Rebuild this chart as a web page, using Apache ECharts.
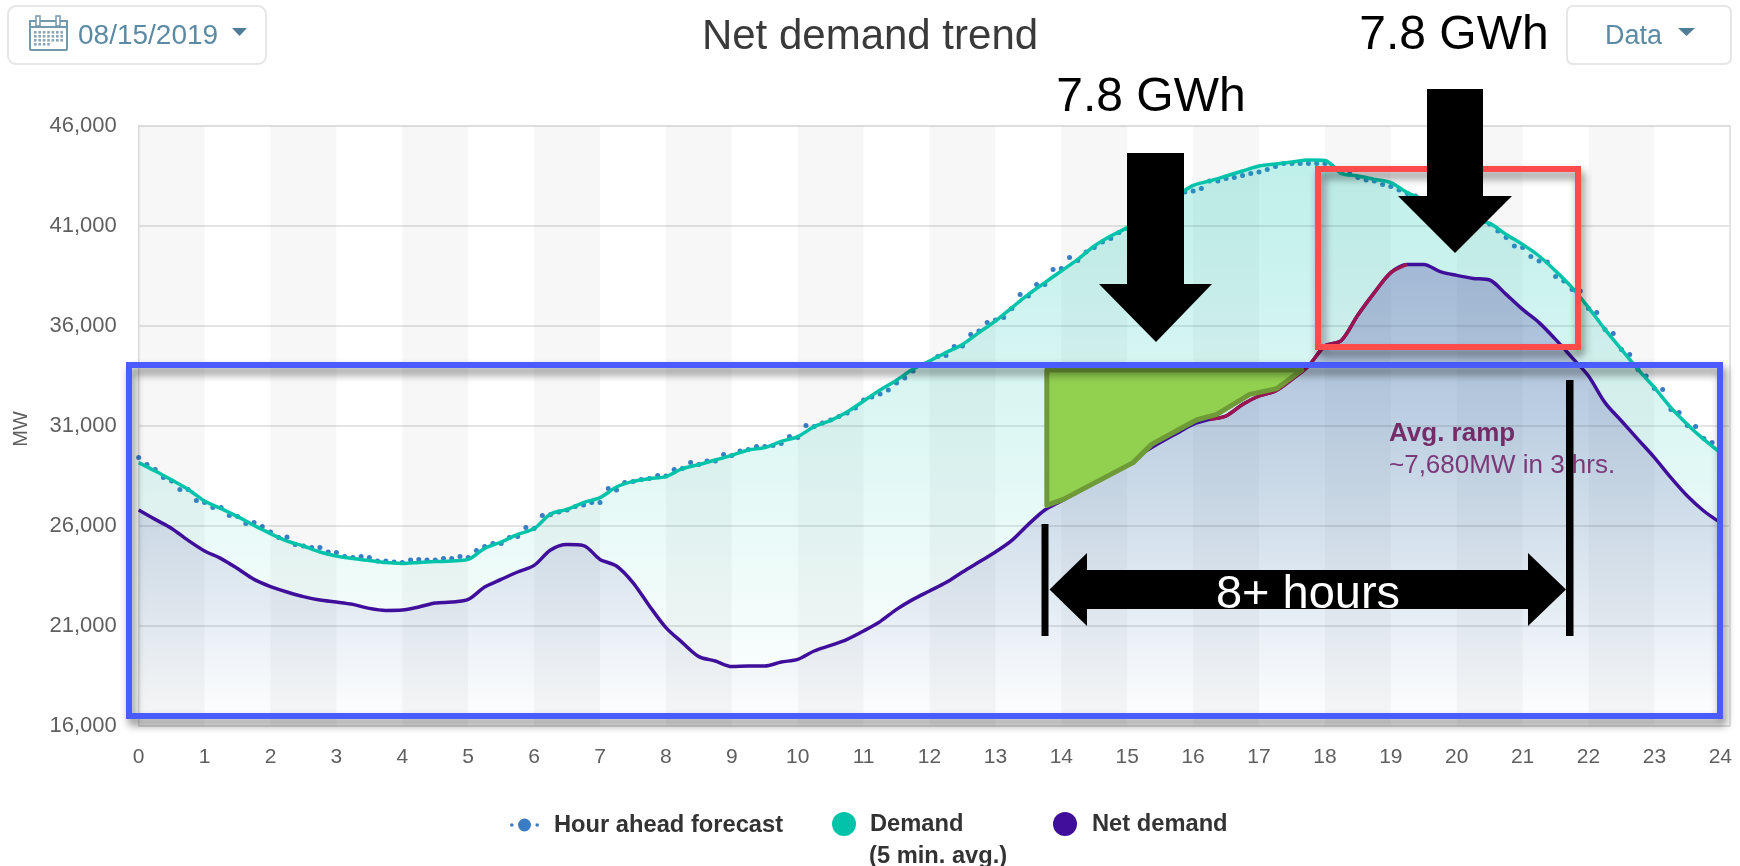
<!DOCTYPE html>
<html><head><meta charset="utf-8">
<style>html,body{margin:0;padding:0;background:#fff}#c{width:1740px;height:866px}</style>
<script src="https://cdn.jsdelivr.net/npm/echarts@6/dist/echarts.min.js"></script>
</head><body><div id="c"></div>
<script>
// ---------- data (MW) ----------
const yTicks = [16000, 21000, 26000, 31000, 36000, 41000, 46000];
const evenHourBands = [0, 2, 4, 6, 8, 10, 12, 14, 16, 18, 20, 22];
// one value every 15 minutes, 00:00 to 24:00
const demand = [
 29170,28750,28300,27830, 27250,26870,26470,26030, 25620,25250,25000,24700,
 24500,24370,24270,24170, 24130,24180,24220,24250, 24330,24880,25200,25580,
 25870,26600,26830,27170, 27420,27950,28230,28370, 28470,28870,29070,29300,
 29530,29800,29920,30230, 30470,30970,31280,31700, 32250,32800,33290,33850,
 34250,34670,35080,35670, 36250,36920,37580,38170, 38750,39330,40000,40500,
 40920,41400,42000,42500, 43030,43250,43500,43750, 44000,44100,44200,44300,
 44280,43630,43500,43330, 43170,42670,42330,41920, 41580,41300,41130,40580,
 40080,39500,38750,37920, 36920,35830,34830,33830, 32920,31920,31080,30330,
 29670];
const netDemand = [
 26800,26330,25880,25280, 24750,24370,23870,23330, 22970,22700,22470,22300,
 22200,22080,21880,21780, 21800,21950,22150,22200, 22330,22950,23330,23700,
 24030,24800,25070,25020, 24330,24000,23170,22000, 20920,20170,19470,19250,
 18970,19000,19000,19200, 19330,19750,20030,20330, 20750,21220,21830,22330,
 22750,23170,23700,24200, 24700,25280,26080,26800, 27250,27700,28250,28700,
 29080,29670,30170,30630, 31080,31330,31500,32080, 32500,32750,33330,34000,
 35000,35280,36550,37670, 38670,39080,39080,38720, 38530,38380,38300,37580,
 36830,36170,35330,34420, 33500,32170,31250,30330, 29420,28420,27500,26750,
 26170];
// one value every 7.5 minutes
const hourAhead = [
 29420,29080,28830,28420,28250,27830,27830,27280,
 27170,26920,26920,26530,26470,26130,26170,25970,
 25700,25420,25450,25080,25000,24920,24920,24700,
 24670,24470,24420,24470,24420,24250,24250,24200,
 24170,24300,24330,24300,24300,24370,24370,24470,
 24420,24780,24970,25130,25130,25420,25470,25920,
 25870,26530,26580,26700,26800,26970,27050,27170,
 27170,27870,27800,28170,28230,28330,28370,28530,
 28500,28830,28870,29170,29070,29250,29250,29580,
 29530,29750,29830,29970,29970,30030,30130,30470,
 30420,31030,30970,31150,31300,31480,31650,31900,
 32300,32450,32600,32800,33150,33400,33750,34050,
 34170,34470,34530,34970,35000,35580,35750,36170,
 36300,36420,36870,37580,37500,38080,38080,38830,
 38870,39420,39280,39700,39920,40200,40370,40670,
 40870,41100,41300,41600,41900,42150,42400,42700,
 42750,42870,43250,43250,43370,43420,43530,43630,
 43700,43830,43970,44130,44130,44130,44130,44130,
 44130,43920,43670,43630,43420,43300,43250,43080,
 42970,42800,42630,42500,42300,42100,41900,41750,
 41550,41450,41270,41170,41100,40750,40420,40000,
 39920,39470,39250,39200,38470,38250,37830,37750,
 36870,36670,35830,35630,34830,34580,33830,33500,
 32870,32830,31830,31670,31030,30970,30370,30170,
 29670];
// hand-drawn green shape (hours / MW)
const greenHours  = [13.78,17.65,17.27,16.86,16.36,16.05,15.37,15.09,14.03,13.78];
const greenValues = [33800,33800,32870,32580,31580,31300,30080,29170,27330,27030];
const rampStartIndex = 65, rampEndIndex = 77; // 16:15 to 19:15 of the net demand line

const quarterPts = a => a.map((v, i) => [i / 4, v]);
const forecastPts = hourAhead.map((v, i) => [i / 8, v]);
const FONT = '"Liberation Sans", Arial, sans-serif';
const TEAL = '#00c3aa', PURPLE = '#3f0f9b', BLUE = '#0a5cb5';
const SMOOTH = 0.3;

// ---------- page furniture & hand-drawn annotations ----------
const g = [];
const rect = (x, y, w, h, style, r) => g.push({type:'rect', z:20, silent:true, shape:{x,y,width:w,height:h,r:r||0}, style});
const poly = (points, style) => g.push({type:'polygon', z:20, silent:true, shape:{points}, style});
const text = (t, x, y, font, fill, align, z) => g.push({type:'text', z:z||20, silent:true,
  style:{text:t, x, y, font, fill, textAlign:align||'left', textVerticalAlign:'middle'}});
const shadow = {shadowBlur:9, shadowColor:'rgba(0,0,0,0.5)', shadowOffsetX:3, shadowOffsetY:6};

// date button
rect(8, 6, 258, 58, {fill:'#fff', stroke:'#e6e6e6', lineWidth:2}, 8);
rect(30, 21, 37, 29, {fill:'#fff', stroke:'#7397ab', lineWidth:2}, 1);
rect(30, 21, 37, 6, {fill:'#fff', stroke:'#7397ab', lineWidth:2});
rect(36, 16, 4, 10, {fill:'#fff', stroke:'#7397ab', lineWidth:1.5});
rect(56, 16, 4, 10, {fill:'#fff', stroke:'#7397ab', lineWidth:1.5});
for (let r = 0; r < 4; r++) for (let c = 0; c < 7; c++) {
  if (r === 3 && c > 3) continue;
  rect(34 + c * 4.4, 31 + r * 4, 2.6, 2.6, {fill:'#8aa5b6'});
}
text('08/15/2019', 78, 36, '28px ' + FONT, '#5c8aa3');
poly([[232,28],[247,28],[239.5,36]], {fill:'#4f7c96'});
// data button
rect(1567, 6, 164, 58, {fill:'#fff', stroke:'#e6e6e6', lineWidth:2}, 6);
text('Data', 1605, 37, '27px ' + FONT, '#5c8aa3');
poly([[1678,28],[1695,28],[1686.5,36]], {fill:'#4f7c96'});

// ramp note (under the black bar)
text('Avg. ramp', 1389, 434, 'bold 26px ' + FONT, '#742c68', 'left', 8);
text('~7,680MW in 3 hrs.', 1389, 466, '26px ' + FONT, '#7a3a78', 'left', 8);

// rectangles
rect(129, 365, 1591, 351, Object.assign({fill:'none', stroke:'#4a5cff', lineWidth:6}, shadow));
rect(1318, 169, 260, 178, Object.assign({fill:'none', stroke:'#ff4b4b', lineWidth:6}, shadow));

// arrows
poly([[1127,153],[1184,153],[1184,284],[1212,284],[1156,342],[1099,284],[1127,284]], {fill:'#000'});
poly([[1427,89],[1483,89],[1483,196],[1512,196],[1455,253],[1398,196],[1427,196]], {fill:'#000'});
text('7.8 GWh', 1151, 98, '48px ' + FONT, '#000', 'center');
text('7.8 GWh', 1454, 36, '48px ' + FONT, '#000', 'center');
// span marker
rect(1041.5, 524, 7, 112, {fill:'#000'});
rect(1566, 380, 7.5, 256, {fill:'#000'});
poly([[1049.5,589.5],[1087,553],[1087,570],[1528,570],[1528,553],[1566,589.5],[1528,626],[1528,609],[1087,609],[1087,626]], {fill:'#000'});
text('8+ hours', 1308, 595, '47px ' + FONT, '#fff', 'center');
// second legend line
text('(5 min. avg.)', 869, 856, 'bold 23.7px ' + FONT, '#333');

// ---------- chart ----------
const legendBase = {orient:'horizontal', padding:0, selectedMode:false, itemGap:0};
const legendText = pad => ({fontFamily:FONT, fontSize:23.7, fontWeight:'bold', color:'#333', padding:[0,0,0,pad]});

const chart = echarts.init(document.getElementById('c'), null, {renderer:'canvas'});
chart.setOption({
  animation:false,
  backgroundColor:'#fff',
  title:{text:'Net demand trend', left:865, textAlign:'center', top:11,
         textStyle:{fontFamily:FONT, fontSize:42, fontWeight:'normal', color:'#3a3a3a'}},
  grid:{left:138.7, right:10, top:126, bottom:140, show:true, borderColor:'#dcdcdc', borderWidth:1.5, backgroundColor:'transparent'},
  xAxis:{type:'value', min:0, max:24.147, interval:1,
    axisLine:{show:false}, axisTick:{show:false}, splitLine:{show:false},
    axisLabel:{fontFamily:FONT, fontSize:21, color:'#5f5f5f', margin:21,
      showMaxLabel:false, formatter:v => Number.isInteger(v) ? String(v) : ''}},
  yAxis:{type:'value', min:yTicks[0], max:yTicks[yTicks.length-1], interval:5000,
    name:'MW', nameLocation:'middle', nameGap:107,
    nameTextStyle:{fontFamily:FONT, fontSize:20, color:'#5f5f5f', padding:[0,0,0,-6]},
    axisLine:{show:false}, axisTick:{show:false},
    splitLine:{lineStyle:{color:'#dcdcdc', width:1.5}},
    axisLabel:{fontFamily:FONT, fontSize:22, color:'#5f5f5f', margin:22,
      formatter:v => v.toLocaleString('en-US')}},
  legend:[
    Object.assign({}, legendBase, {left:510, itemWidth:29, itemHeight:13, top:813,
      data:[{name:'Hour ahead forecast',
        icon:'path://M0 6.5a1.8 1.8 0 1 0 3.6 0a1.8 1.8 0 1 0 -3.6 0Z M8 6.5a6.5 6.5 0 1 0 13 0a6.5 6.5 0 1 0 -13 0Z M25.4 6.5a1.8 1.8 0 1 0 3.6 0a1.8 1.8 0 1 0 -3.6 0Z'}],
      itemStyle:{color:BLUE}, textStyle:legendText(10)}),
    Object.assign({}, legendBase, {left:832, itemWidth:24, itemHeight:24, top:812,
      data:[{name:'Demand', icon:'circle'}], itemStyle:{color:TEAL}, textStyle:legendText(9)}),
    Object.assign({}, legendBase, {left:1053, itemWidth:24, itemHeight:24, top:812,
      data:[{name:'Net demand', icon:'circle'}], itemStyle:{color:PURPLE}, textStyle:legendText(10)})
  ],
  graphic:{elements:g},
  series:[
    {name:'Hour ahead forecast', type:'scatter', z:1, symbol:'circle', symbolSize:5, silent:true,
     itemStyle:{color:BLUE}, data:forecastPts,
     markArea:{silent:true, itemStyle:{color:'rgba(0,0,0,0.032)'}, label:{show:false},
       data:evenHourBands.map(h => [{xAxis:h},{xAxis:h+1}])}},
    {name:'Demand', type:'line', z:2, symbol:'none', silent:true, smooth:SMOOTH, data:quarterPts(demand),
     itemStyle:{color:TEAL}, lineStyle:{color:TEAL, width:3.5},
     areaStyle:{color:new echarts.graphic.LinearGradient(0,0,0,1,[
       {offset:0, color:'rgba(0,195,170,0.36)'},{offset:1, color:'rgba(0,195,170,0)'}])}},
    {name:'Net demand', type:'line', z:3, symbol:'none', silent:true, smooth:SMOOTH, data:quarterPts(netDemand),
     itemStyle:{color:PURPLE}, lineStyle:{color:PURPLE, width:3.5},
     areaStyle:{color:new echarts.graphic.LinearGradient(0,0,0,1,[
       {offset:0, color:'rgba(63,45,155,0.42)'},{offset:1, color:'rgba(63,45,155,0)'}])}},
    {name:'Ramp', type:'line', z:4, symbol:'none', silent:true, smooth:SMOOTH,
     data:quarterPts(netDemand).slice(rampStartIndex, rampEndIndex + 1),
     lineStyle:{color:'#9c1450', width:3.5}},
    {name:'Ramp energy', type:'custom', z:5, silent:true, clip:false,
     data:greenHours.map((h, i) => [h, greenValues[i]]),
     renderItem:(p, api) => p.dataIndex !== 0 ? null : ({
       type:'polygon',
       shape:{points:greenHours.map((h, i) => api.coord([h, greenValues[i]]))},
       style:{fill:'#92d050', stroke:'#6f9a38', lineWidth:5, lineJoin:'round'}
     })}
  ]
});
</script></body></html>
